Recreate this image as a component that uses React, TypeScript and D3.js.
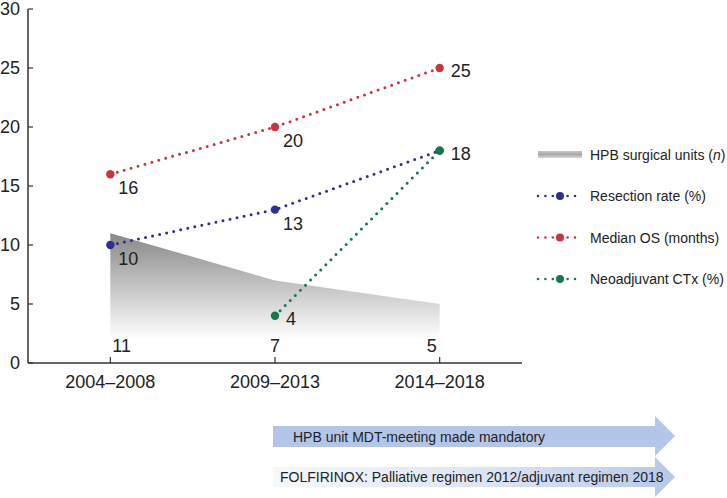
import React from "react";
import * as d3 from "d3";

const periods = ["2004–2008", "2009–2013", "2014–2018"];
const hpbUnits = [11, 7, 5];
const resectionRate = [10, 13, 18];
const medianOS = [16, 20, 25];
const neoadjuvant: (number | null)[] = [null, 4, 18];
const yTicks = [0, 5, 10, 15, 20, 25, 30];
const legendLabels = ["HPB surgical units", "Resection rate (%)", "Median OS (months)", "Neoadjuvant CTx (%)"];
const timelineLabels = [
  "HPB unit MDT-meeting made mandatory",
  "FOLFIRINOX: Palliative regimen 2012/adjuvant regimen 2018",
];

const W = 727;
const H = 498;
const FONT = "'Liberation Sans', Arial, Helvetica, sans-serif";

export default function App() {
  const x = d3.scalePoint<string>().domain(periods).range([28, 522]).padding(0.5);
  const y = d3.scaleLinear().domain([0, 30]).range([363, 9]);

  const areaGen = d3
    .area<number>()
    .x((_, i) => x(periods[i])!)
    .y0(y(0))
    .y1((d) => y(d));

  const lineGen = d3
    .line<number | null>()
    .defined((d) => d !== null)
    .x((_, i) => x(periods[i])!)
    .y((d) => y(d as number));

  const series = [
    { name: "resection", values: resectionRate as (number | null)[], color: "#2e2f8f", pos: ["br", "br", "r"] },
    { name: "os", values: medianOS as (number | null)[], color: "#cc3340", pos: ["br", "br", "r"] },
    { name: "neo", values: neoadjuvant, color: "#147a4c", pos: ["r", "r", ""] },
  ];

  const axisColor = "#333";
  const textColor = "#222";

  return (
    <svg
      width={W}
      height={H}
      style={{ position: "absolute", left: 0, top: 0, background: "#fff" }}
      fontFamily={FONT}
    >
      <defs>
        <linearGradient id="areaGrad" gradientUnits="userSpaceOnUse" x1="0" y1={y(11)} x2="0" y2={y(2)}>
          <stop offset="0" stopColor="#888" />
          <stop offset="1" stopColor="#fff" />
        </linearGradient>
        <linearGradient id="legGrad" x1="0" y1="0" x2="0" y2="1">
          <stop offset="0" stopColor="#c8c8c8" />
          <stop offset="0.5" stopColor="#a8a8a8" />
          <stop offset="1" stopColor="#d8d8d8" />
        </linearGradient>
        <linearGradient id="arrow2Grad" x1="0" y1="0" x2="1" y2="0">
          <stop offset="0" stopColor="#f6f8fc" />
          <stop offset="0.55" stopColor="#dbe4f3" />
          <stop offset="1" stopColor="#b6c8e7" />
        </linearGradient>
      </defs>

      {/* area */}
      <path d={areaGen(hpbUnits) || ""} fill="url(#areaGrad)" />
      {hpbUnits.map((v, i) => (
        <text
          key={"hl" + i}
          x={x(periods[i])! + (i === 0 ? 2 : i === 2 ? -8 : 0)}
          y={352}
          fontSize={18}
          fill={textColor}
          textAnchor={i === 0 ? "start" : "middle"}
        >
          {v}
        </text>
      ))}

      {/* axes */}
      <line x1={28} x2={28} y1={y(30)} y2={y(0)} stroke={axisColor} strokeWidth={1.5} />
      <line x1={28} x2={522} y1={y(0)} y2={y(0)} stroke={axisColor} strokeWidth={1.5} />
      {yTicks.map((t) => (
        <g key={"yt" + t}>
          <line x1={28} x2={33} y1={y(t)} y2={y(t)} stroke={axisColor} strokeWidth={1.2} />
          <text x={20} y={y(t)} dy="0.35em" textAnchor="end" fontSize={18} fill={textColor}>
            {t}
          </text>
        </g>
      ))}
      {periods.map((p) => (
        <g key={"xt" + p}>
          <line x1={x(p)!} x2={x(p)!} y1={y(0)} y2={y(0) - 6} stroke={axisColor} strokeWidth={1.2} />
          <text x={x(p)!} y={y(0) + 25} textAnchor="middle" fontSize={18} fill={textColor}>
            {p}
          </text>
        </g>
      ))}

      {/* lines */}
      {series.map((s) => (
        <g key={s.name}>
          <path
            d={lineGen(s.values) || ""}
            fill="none"
            stroke={s.color}
            strokeWidth={3}
            strokeLinecap="round"
            strokeDasharray="0 7.2"
          />
          {s.values.map((v, i) =>
            v === null ? null : (
              <g key={i}>
                <circle cx={x(periods[i])!} cy={y(v)} r={4.2} fill={s.color} />
                {s.pos[i] ? (
                  <text
                    x={x(periods[i])! + (s.pos[i] === "r" ? 11 : 8)}
                    y={y(v) + (s.pos[i] === "r" ? 9 : 20)}
                    fontSize={18}
                    fill={textColor}
                  >
                    {v}
                  </text>
                ) : null}
              </g>
            )
          )}
        </g>
      ))}

      {/* legend */}
      <g>
        <rect x={538} y={151} width={44} height={7} fill="url(#legGrad)" />
        <text x={590} y={160} fontSize={14} fill={textColor}>
          {legendLabels[0]} (<tspan fontStyle="italic">n</tspan>)
        </text>
        {series.map((s, i) => {
          const ly = 196 + i * 41.5;
          return (
            <g key={"leg" + s.name}>
              <line
                x1={538}
                x2={576}
                y1={ly}
                y2={ly}
                stroke={s.color}
                strokeWidth={2.6}
                strokeLinecap="round"
                strokeDasharray="0 7.4"
              />
              <circle cx={560} cy={ly} r={4} fill={s.color} />
              <text x={590} y={ly + 5} fontSize={14} fill={textColor}>
                {legendLabels[i + 1]}
              </text>
            </g>
          );
        })}
      </g>

      {/* timeline arrows */}
      <path d="M273,426 L655,426 L655,416 L675,436 L655,456 L655,447 L273,447 Z" fill="#b4c6e7" />
      <text x={293} y={442} fontSize={14} fill={textColor}>
        {timelineLabels[0]}
      </text>
      <path d="M273,467 L655,467 L655,457 L675,477 L655,497 L655,487 L273,487 Z" fill="url(#arrow2Grad)" />
      <text x={280} y={482} fontSize={14} fill={textColor}>
        {timelineLabels[1]}
      </text>
    </svg>
  );
}
